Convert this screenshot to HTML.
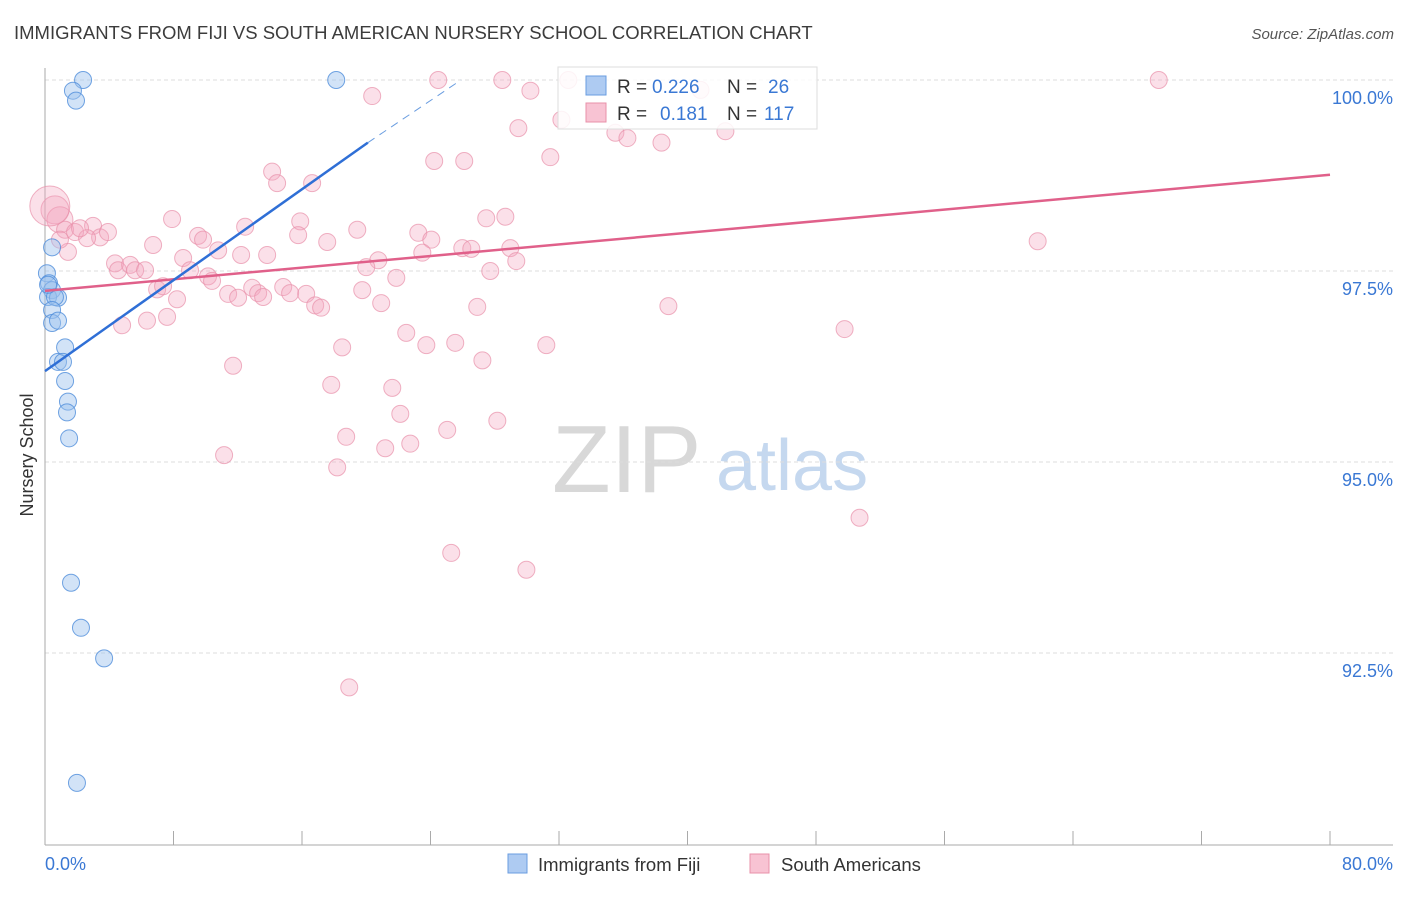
<!DOCTYPE html>
<html><head><meta charset="utf-8"><style>
body{margin:0;background:#fff;font-family:"Liberation Sans",sans-serif;}
svg text{font-family:"Liberation Sans",sans-serif;}
</style></head><body>
<svg id="chart" width="1406" height="892" xmlns="http://www.w3.org/2000/svg">
<text x="14" y="39" font-size="18.5" fill="#3c3c3c">IMMIGRANTS FROM FIJI VS SOUTH AMERICAN NURSERY SCHOOL CORRELATION CHART</text>
<text x="1394" y="39" font-size="15" fill="#555" text-anchor="end" font-style="italic">Source: ZipAtlas.com</text>
<g>
<text x="552" y="492" font-size="96" fill="#d8d8d8" font-family="Liberation Serif">ZIP</text>
<text x="716" y="490" font-size="72" fill="#c5d8ef">atlas</text>
</g>
<g id="grid"></g>
<g id="axes"></g>
<g id="marks"></g>
<g id="legend">
<rect x="558" y="67" width="259" height="62" fill="#fff" fill-opacity="0.85" stroke="#ddd"/>
<rect x="586" y="76" width="20" height="19" fill="#aecbf2" stroke="#6a9de0"/>
<rect x="586" y="103" width="20" height="19" fill="#f8c3d3" stroke="#e890aa"/>
<g font-size="19">
<text x="617" y="93" fill="#333">R =</text><text x="652" y="93" fill="#3a78d4">0.226</text>
<text x="727" y="93" fill="#333">N =</text><text x="768" y="93" fill="#3a78d4">26</text>
</g>
<g font-size="19">
<text x="617" y="120" fill="#333">R =</text><text x="660" y="120" fill="#3a78d4">0.181</text>
<text x="727" y="120" fill="#333">N =</text><text x="764" y="120" fill="#3a78d4">117</text>
</g>
</g>
<g>
<rect x="508" y="854" width="19" height="19" fill="#aecbf2" stroke="#6a9de0"/>
<text x="538" y="871" font-size="18.5" fill="#333">Immigrants from Fiji</text>
<rect x="750" y="854" width="19" height="19" fill="#f8c3d3" stroke="#e890aa"/>
<text x="781" y="871" font-size="18.5" fill="#333">South Americans</text>
</g>
<text transform="translate(33,455) rotate(-90)" font-size="18" fill="#333" text-anchor="middle">Nursery School</text>
</svg>
<script>
const yTicks=[100,97.5,95,92.5];
const yTickLabels=["100.0%","97.5%","95.0%","92.5%"];
const xTickLabels=["0.0%","80.0%"];
const fijiX=[2.37,1.74,1.93,18.13,0.44,0.12,0.25,0.44,0.19,0.81,0.62,0.44,0.44,0.81,0.81,1.25,1.12,1.25,1.43,1.37,1.50,1.62,2.24,3.68,1.99,0.19];
const fijiY=[100,99.86,99.73,100,97.81,97.47,97.34,97.25,97.16,97.15,97.16,96.99,96.82,96.85,96.31,96.50,96.31,96.06,95.79,95.65,95.31,93.42,92.83,92.43,90.80,97.32];
const saX=[24.48,28.47,32.58,69.34,20.37,30.22,29.47,32.15,35.51,36.26,38.38,42.36,40.81,24.23,26.10,31.46,14.14,14.45,16.63,7.91,12.46,15.89,15.76,19.44,17.57,23.24,24.05,27.47,28.66,25.98,26.54,28.97,29.34,23.49,20.75,20.00,21.87,27.72,61.80,0.62,0.93,1.25,1.43,1.87,2.99,3.43,3.92,2.62,6.73,9.53,9.84,8.60,10.78,12.21,13.83,4.36,4.55,5.30,5.61,6.23,6.98,7.35,8.22,9.03,10.15,10.40,11.40,12.02,12.90,13.27,13.58,14.83,15.26,16.26,16.82,17.19,19.75,20.93,26.91,38.81,4.80,6.35,7.60,11.71,18.50,22.49,23.74,25.54,27.23,31.21,49.78,17.82,21.62,22.12,18.75,21.18,22.74,25.04,28.16,11.15,18.19,50.71,25.29,29.97,18.94,0.93,2.18,0.3];
const saY=[100,100,100,100,99.79,99.86,99.37,99.48,99.31,99.24,99.18,99.33,99.87,98.94,98.94,98.99,98.80,98.65,98.65,98.18,98.08,98.15,97.97,98.04,97.88,98.00,97.91,98.19,98.21,97.80,97.79,97.80,97.63,97.74,97.64,97.55,97.41,97.50,97.89,98.30,98.17,98.04,97.75,98.01,98.09,97.94,98.01,97.93,97.84,97.96,97.91,97.67,97.77,97.71,97.71,97.60,97.51,97.58,97.51,97.51,97.26,97.30,97.13,97.51,97.43,97.37,97.20,97.15,97.28,97.21,97.16,97.29,97.21,97.20,97.05,97.02,97.25,97.08,97.03,97.04,96.79,96.85,96.90,96.26,96.50,96.69,96.53,96.56,96.33,96.53,96.74,96.01,95.97,95.63,95.33,95.18,95.24,95.42,95.54,95.09,94.93,94.27,93.81,93.59,92.05,97.91,98.06,98.35];
const bigPoints={39:14,40:13,107:20};
const fijiTrend=[96.19,99.18,100];
const fijiTrendX=[0,20.1,25.9];
const saTrend=[97.24,98.76];
const saTrendX=[0,80];

const NS="http://www.w3.org/2000/svg";
const X=v=>45+v/80*1285;
const Y=v=>80+(100-v)/2.5*191;
function mk(tag,attrs,parent){const e=document.createElementNS(NS,tag);for(const k in attrs)e.setAttribute(k,attrs[k]);parent.appendChild(e);return e;}
const grid=document.getElementById('grid'),axes=document.getElementById('axes'),marks=document.getElementById('marks');
yTicks.forEach((t,i)=>{
 const l=mk('line',{x1:45,x2:1393,y1:Y(t),y2:Y(t),stroke:'#ddd','stroke-dasharray':'4 3'},grid);
 
 
 const tx=mk('text',{x:1393,y:Y(t)+24,'font-size':18,fill:'#3a78d4','text-anchor':'end'},axes);
 tx.textContent=yTickLabels[i];
 
 
});
const ya=mk('line',{x1:45,x2:45,y1:68,y2:845,stroke:'#aaa'},axes);


const xa=mk('line',{x1:45,x2:1393,y1:845,y2:845,stroke:'#aaa'},axes);


for(let i=0;i<=10;i++){
 const t=mk('line',{x1:X(i*8),x2:X(i*8),y1:831,y2:845,stroke:'#aaa'},axes);
 
 
}
[[0,'start',45],[80,'end',1393]].forEach((d,i)=>{
 const tx=mk('text',{x:d[2],y:870,'font-size':18,fill:'#3a78d4','text-anchor':d[1]},axes);
 tx.textContent=xTickLabels[i];
 
 
});
saX.forEach((v,i)=>{
 const r=bigPoints[i]||8.5;
 const c=mk('circle',{cx:X(v),cy:Y(saY[i]),r:r,fill:'#f4a6bf','fill-opacity':0.35,stroke:'#e890aa','stroke-opacity':0.7,'stroke-width':1},marks);
 
 
});
fijiX.forEach((v,i)=>{
 const c=mk('circle',{cx:X(v),cy:Y(fijiY[i]),r:8.5,fill:'#9cc0ee','fill-opacity':0.45,stroke:'#4f8ddb','stroke-opacity':0.8,'stroke-width':1},marks);
 
 
});
const st=mk('line',{x1:X(saTrendX[0]),y1:Y(saTrend[0]),x2:X(saTrendX[1]),y2:Y(saTrend[1]),stroke:'#e0608a','stroke-width':2.5},marks);


const ft=mk('line',{x1:X(fijiTrendX[0]),y1:Y(fijiTrend[0]),x2:X(fijiTrendX[1]),y2:Y(fijiTrend[1]),stroke:'#2f6fd6','stroke-width':2.5},marks);


const fd=mk('line',{x1:X(fijiTrendX[1]),y1:Y(fijiTrend[1]),x2:X(fijiTrendX[2]),y2:Y(fijiTrend[2]),stroke:'#6a9de0','stroke-width':1,'stroke-dasharray':'8 6'},marks);


</script>
</body></html>
